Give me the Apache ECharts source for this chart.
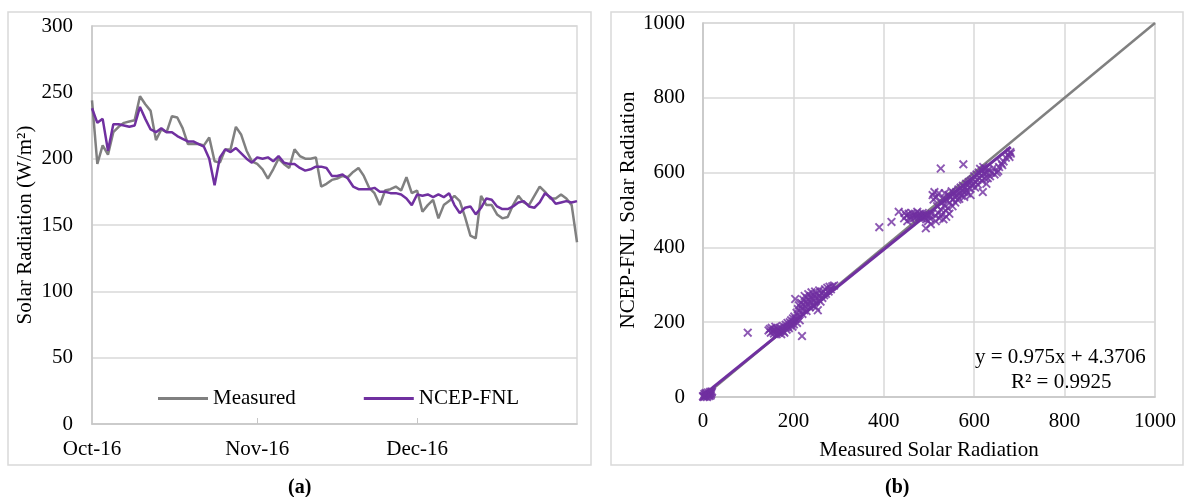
<!DOCTYPE html>
<html><head><meta charset="utf-8">
<script src="https://cdn.jsdelivr.net/npm/echarts@6/dist/echarts.min.js"></script>
<style>html,body{margin:0;padding:0;background:#fff}#c{width:1186px;height:497px}</style>
</head><body><div id="c"></div>
<script>
// ---- Data (panel a): daily values Oct 1 – Dec 31, 2016 ----
const startDate = '2016-10-01';
const dayCount = 92;
const measured = [244,196,210,203,220,224,227,228,229,247,241,236,214,222,220,232,231,223,211,211,
  211,210,216,198,197,207,207,224,218,206,198,196,192,185,192,200,196,193,207,202,
  200,200,201,179,181,184,185,187,186,190,193,187,178,174,165,176,177,179,176,186,
  174,176,160,165,169,155,165,168,172,168,156,142,140,172,165,165,158,155,156,165,
  172,167,165,172,179,175,170,170,173,170,165,137];
const ncep = [238,227,230,206,226,226,225,224,225,239,230,222,220,223,220,220,217,215,213,213,
  211,209,200,180,201,207,205,208,204,200,197,201,200,201,198,202,197,196,196,193,
  191,192,194,194,193,187,187,188,185,179,177,177,177,178,175,175,174,174,173,170,
  165,173,172,173,171,173,171,174,165,159,163,164,158,163,170,169,164,162,162,164,
  167,168,164,163,167,174,171,166,167,168,167,168];
const monthLabels = {'10':'Oct-16','11':'Nov-16','12':'Dec-16'};
const leftYTicks = [0,50,100,150,200,250,300];

// ---- Data (panel b): scatter Measured vs NCEP-FNL ----
const scatterMeasured = [2,4,5,7,8,10,11,13,14,15,16,18,3,6,9,12,17,19,1,20,0,
  99,219,390,417,433,446,493,526,576,681,678,662,619,653,
  145,148,150,152,155,157,158,160,162,163,165,167,168,170,172,173,175,177,178,180,182,183,185,187,188,190,192,193,195,196,198,199,200,201,
  202,204,205,207,208,210,211,212,214,215,217,218,220,221,222,224,225,226,228,229,230,232,233,235,236,238,239,240,242,243,245,246,248,249,250,252,254,255,257,258,260,262,264,266,268,270,272,275,278,280,283,286,290,
  445,450,452,455,458,460,462,465,467,470,472,474,476,478,480,482,484,486,488,490,492,494,496,498,500,502,504,506,
  508,510,512,514,515,516,518,520,522,523,525,527,528,530,532,534,535,537,538,540,542,543,545,546,548,550,552,553,555,557,558,560,562,563,
  565,567,568,570,572,573,575,577,578,580,582,583,585,587,588,590,592,593,595,597,598,600,602,603,605,607,608,610,612,613,615,617,618,620,622,623,625,627,628,630,632,635,638,642,645,650,655,660,665,670,675,680];
const scatterNcep = [3,1,6,2,9,4,12,7,3,10,14,8,8,11,0,5,4,12,0,15,2,
  172,163,454,468,495,492,451,611,622,651,642,620,548,604,
  178,182,172,185,176,170,180,188,175,168,182,178,172,185,176,168,182,190,175,172,186,193,180,198,188,184,200,192,205,196,188,210,202,194,
  215,262,208,225,198,235,218,245,205,228,252,238,222,248,260,232,270,242,255,230,265,248,275,258,240,268,252,280,262,245,272,256,282,265,240,275,232,262,285,270,255,278,265,282,272,288,276,292,282,295,288,296,298,
  478,485,470,490,482,475,492,486,478,488,482,495,486,480,490,484,478,492,486,480,488,475,484,470,486,478,462,490,
  540,528,548,485,470,535,510,492,545,478,520,500,488,530,475,512,545,498,482,525,505,540,490,520,535,550,510,528,545,535,520,548,540,528,
  555,530,545,560,538,552,565,548,535,560,570,552,545,568,575,558,540,578,565,582,570,590,560,575,595,580,568,600,585,610,592,578,605,615,598,585,610,570,600,585,608,590,600,612,595,600,615,625,630,640,648,655];
const trendSlope = 0.975, trendIntercept = 4.3706, r2 = 0.9925;
const rightTicks = [0,200,400,600,800,1000];

// ---- build ----
const cats = [];
{ const d0 = new Date(startDate + 'T00:00:00Z');
  for (let i = 0; i < dayCount; i++) { const d = new Date(d0.getTime() + i*86400000); cats.push(d.toISOString().slice(0,10)); } }
const isMonthStart = (idx) => cats[idx] && cats[idx].slice(8) === '01';
const scatterPts = scatterMeasured.map((x,i)=>[x, scatterNcep[i]]);
const maxX = Math.max(...scatterMeasured);
const trendPts = [[0, trendIntercept], [maxX, trendSlope*maxX + trendIntercept]];

const FONT = 'Liberation Serif';
const FS = 21;
const GRID = '#d9d9d9';
const AXIS = '#c6c6c6';
const PURPLE = '#7030a0';
const GRAY = '#808080';
const xMark = 'path://M0,1.5L1.5,0L5,3.5L8.5,0L10,1.5L6.5,5L10,8.5L8.5,10L5,6.5L1.5,10L0,8.5L3.5,5Z';
const plain = (v)=>String(v);

const chart = echarts.init(document.getElementById('c'), null, {renderer:'canvas'});
chart.setOption({
  animation: false,
  backgroundColor: '#fff',
  textStyle: {fontFamily: FONT, color: '#000'},
  grid: [
    {left: 92, top: 26, width: 485, height: 398, show: true, borderColor: GRID, borderWidth: 1.5, containLabel: false},
    {left: 703, top: 23, width: 452, height: 374, show: true, borderColor: GRID, borderWidth: 1.5, containLabel: false}
  ],
  xAxis: [
    {type: 'category', gridIndex: 0, data: cats, boundaryGap: false,
     axisLine: {lineStyle: {color: AXIS, width: 1.5}},
     axisTick: {show: true, inside: true, length: 6, interval: (i)=>isMonthStart(i) && i>0, lineStyle: {color: AXIS}},
     axisLabel: {interval: (i)=>isMonthStart(i), formatter: (v)=>monthLabels[String(Number(v.slice(5,7)))] || '',
       fontFamily: FONT, fontSize: FS, color: '#000', margin: 15},
     splitLine: {show: false}},
    {type: 'value', gridIndex: 1, min: 0, max: 1000, interval: 200,
     name: 'Measured Solar Radiation', nameLocation: 'middle', nameGap: 43,
     nameTextStyle: {fontFamily: FONT, fontSize: FS, color: '#000'},
     axisLine: {lineStyle: {color: AXIS, width: 1.5}}, axisTick: {show: false},
     axisLabel: {fontFamily: FONT, fontSize: FS, color: '#000', margin: 14, formatter: plain},
     splitLine: {lineStyle: {color: GRID, width: 1.5}}}
  ],
  yAxis: [
    {type: 'value', gridIndex: 0, min: 0, max: 300, interval: 50,
     name: 'Solar Radiation (W/m²)', nameLocation: 'middle', nameGap: 56,
     nameTextStyle: {fontFamily: FONT, fontSize: FS, color: '#000'},
     axisLine: {show: true, lineStyle: {color: AXIS, width: 1.5}}, axisTick: {show: false},
     axisLabel: {fontFamily: FONT, fontSize: FS, color: '#000', margin: 19, formatter: plain},
     splitLine: {lineStyle: {color: GRID, width: 1.5}}},
    {type: 'value', gridIndex: 1, min: 0, max: 1000, interval: 200,
     name: 'NCEP-FNL Solar Radiation', nameLocation: 'middle', nameGap: 58,
     nameTextStyle: {fontFamily: FONT, fontSize: FS, color: '#000'},
     axisLine: {show: true, lineStyle: {color: AXIS, width: 1.5}}, axisTick: {show: false},
     axisLabel: {fontFamily: FONT, fontSize: FS, color: '#000', margin: 18, formatter: plain},
     splitLine: {lineStyle: {color: GRID, width: 1.5}}}
  ],
  legend: {
    left: 153, top: 383, itemWidth: 50, itemHeight: 3, itemGap: 68, icon: 'rect',
    textStyle: {fontFamily: FONT, fontSize: FS, color: '#000'},
    data: ['Measured', 'NCEP-FNL']
  },
  series: [
    {name: 'Measured', type: 'line', xAxisIndex: 0, yAxisIndex: 0, data: measured, showSymbol: false,
     lineStyle: {color: GRAY, width: 2.5}, itemStyle: {color: GRAY}},
    {name: 'NCEP-FNL', type: 'line', xAxisIndex: 0, yAxisIndex: 0, data: ncep, showSymbol: false,
     lineStyle: {color: PURPLE, width: 2.5}, itemStyle: {color: PURPLE}},
    {name: '1:1', type: 'line', xAxisIndex: 1, yAxisIndex: 1, data: [[0,0],[1000,1000]], showSymbol: false,
     lineStyle: {color: GRAY, width: 2.5}, z: 2},
    {name: 'trend', type: 'line', xAxisIndex: 1, yAxisIndex: 1, data: trendPts, showSymbol: false,
     lineStyle: {color: PURPLE, width: 3}, z: 3},
    {name: 'points', type: 'scatter', xAxisIndex: 1, yAxisIndex: 1, data: scatterPts,
     symbol: xMark, symbolSize: 9, itemStyle: {color: PURPLE}, z: 4}
  ],
  graphic: [
    {type: 'rect', shape: {x: 8, y: 12, width: 583, height: 453}, style: {fill: 'none', stroke: GRID, lineWidth: 1.5}, z: -10},
    {type: 'rect', shape: {x: 611, y: 12, width: 572, height: 453}, style: {fill: 'none', stroke: GRID, lineWidth: 1.5}, z: -10},
    {type: 'text', left: 975, top: 347, style: {text: 'y = ' + trendSlope + 'x + ' + trendIntercept, font: '21px "Liberation Serif"', fill: '#000'}},
    {type: 'text', left: 1011, top: 372, style: {text: 'R² = ' + r2, font: '21px "Liberation Serif"', fill: '#000'}},
    {type: 'text', left: 288, top: 478, style: {text: '(a)', font: 'bold 20px "Liberation Serif"', fill: '#000'}},
    {type: 'text', left: 885, top: 478, style: {text: '(b)', font: 'bold 20px "Liberation Serif"', fill: '#000'}}
  ]
});
</script></body></html>
